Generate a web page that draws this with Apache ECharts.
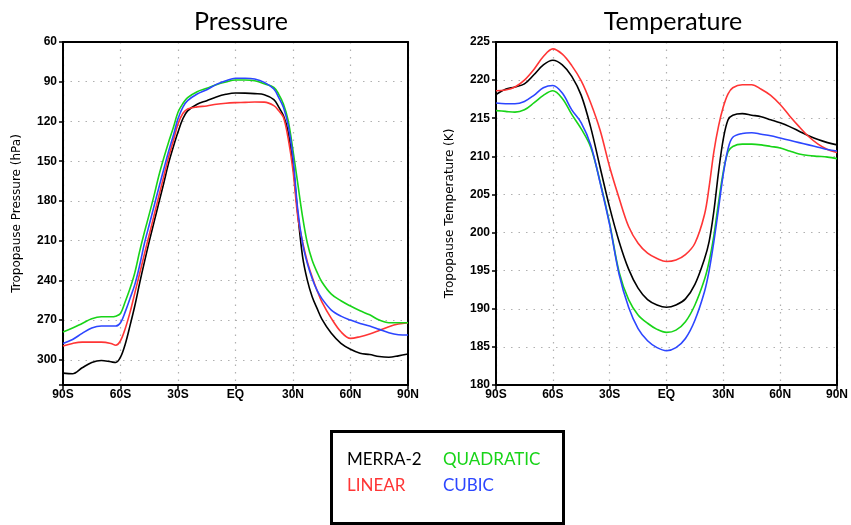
<!DOCTYPE html>
<html lang="en">
<head>
    <meta charset="UTF-8">
    <title>Tropopause Pressure / Temperature</title>
    <script src="https://cdn.jsdelivr.net/npm/echarts@6/dist/echarts.min.js"></script>
    <style>
        html, body { margin: 0; padding: 0; background: #fff; }
        #main { width: 851px; height: 525px; }
    </style>
</head>
<body>
<div id="main"></div>
<script>
    // x axis ticks (latitude)
    let latTicks = [-90, -60, -30, 0, 30, 60, 90];
    let latLabels = ['90S', '60S', '30S', 'EQ', '30N', '60N', '90N'];

    let names = ['MERRA-2', 'LINEAR', 'QUADRATIC', 'CUBIC'];
    let colors = ['#000000', '#ff3535', '#18d418', '#2c46ff'];

    // ---- Pressure panel (hPa) ----
    let latP = [-90, -85, -80, -75, -70, -65, -62.5, -60, -57.5, -55, -52.5, -50, -47.5, -45, -42.5, -40, -37.5, -35, -32.5, -30, -27.5, -25,
        -20, -15, -10, -5, 0, 5, 10, 15, 20, 22.5, 25, 27.5, 30, 32.5, 35, 37.5, 40, 42.5, 45, 50, 55, 60, 65, 70, 75, 80, 85, 90];
    let presMerra = [310, 310.5, 306, 302, 300.5, 301.5, 302, 298, 288, 274, 259, 242, 226, 210.5, 196, 181.4, 167, 152, 139.5, 128, 118, 112,
        107, 104.3, 101.5, 99.5, 98.5, 98.6, 99, 99.8, 103.5, 109, 115.6, 128, 153, 189.7, 222, 240, 252.4, 261, 269, 280, 287.5, 292, 295, 296, 297.5, 298, 297, 295.6];
    let presLinear = [289.6, 287.6, 286.6, 286.6, 286.6, 287.6, 289, 285.6, 276.3, 264, 249.4, 234.8, 220, 205.5, 191, 176.4, 162, 147.5, 135, 122, 114, 110.6,
        109, 108.3, 107, 106.2, 105.8, 105.6, 105.3, 105.4, 108, 111.8, 116.9, 133, 157, 192, 211, 226, 237.4, 247.4, 256, 268.7, 278.8, 283.8, 282.5, 280.5, 277.8, 275, 273, 272];
    let presQuad = [279, 276, 272.5, 269, 267.5, 267.5, 267, 265, 256, 246, 234, 218, 203.5, 190, 176, 161, 148, 136, 125, 113, 106.5, 102,
        97.5, 95, 92.2, 90.2, 88.7, 88.7, 89.2, 91.5, 94.3, 99.3, 106.8, 119.4, 142, 167, 192, 212, 224.8, 233.6, 241, 250.4, 255.4, 259.4, 263, 266, 270, 272, 272, 272];
    let presCubic = [287.6, 284.6, 280, 276, 274.5, 274.5, 274.5, 272, 263.6, 253.5, 243, 228.6, 212, 198, 184, 170, 156.5, 143, 131, 118, 109.3, 104.3,
        99.3, 96, 92, 89.2, 87.4, 87.4, 88, 90.5, 95.5, 101.8, 109.3, 123, 147, 187, 212, 227.3, 238.6, 247.4, 253.6, 262.4, 267, 270, 272.5, 274.5, 277, 279.5, 281, 281.3];
    let presTicks = [60, 90, 120, 150, 180, 210, 240, 270, 300];

    // ---- Temperature panel (K) ----
    let latT = [-90, -85, -80, -75, -70, -65, -60, -55, -50, -45, -40, -35, -30, -25, -20, -15, -10, -5, 0,
        5, 10, 15, 20, 22.5, 25, 27.5, 30, 32.5, 35, 40, 45, 50, 55, 60, 65, 70, 75, 80, 85, 90];
    let tempMerra = [218.1, 218.8, 219.1, 219.5, 220.7, 222, 222.6, 222, 220.5, 218, 213.8, 208.5, 203.3, 198.8, 195.2, 192.7, 191.2, 190.5, 190.2,
        190.5, 191.3, 193.2, 196.5, 198.8, 202.8, 208, 212.3, 214.8, 215.4, 215.6, 215.4, 215.2, 214.8, 214.4, 213.9, 213.3, 212.7, 212.2, 211.8, 211.5];
    let tempLinear = [218.6, 218.7, 219.1, 220, 221.4, 223.1, 224.1, 223.4, 221.9, 219.9, 217, 213.4, 208.6, 204.5, 200.8, 198.6, 197.3, 196.6, 196.2,
        196.4, 197.1, 198.6, 202.3, 206, 210.6, 214, 216.5, 218.2, 219, 219.4, 219.4, 218.8, 218, 216.8, 215.3, 213.9, 212.6, 211.6, 210.9, 210.5];
    let tempQuad = [216, 215.9, 215.8, 216.1, 217, 218, 218.6, 217.6, 215.5, 213.6, 211.2, 206.6, 201.2, 194.8, 191.2, 189.2, 188.1, 187.3, 186.9,
        187.2, 188.3, 190.5, 193.8, 196.2, 199.6, 204, 208, 210.6, 211.3, 211.6, 211.6, 211.5, 211.3, 211.1, 210.7, 210.3, 210.1, 210, 209.9, 209.7];
    let tempCubic = [217, 216.9, 216.9, 217.2, 218, 219, 219.3, 218.3, 216.1, 214.4, 211.5, 206.5, 201, 194.5, 190.2, 187.4, 185.8, 184.9, 184.5,
        184.9, 186.1, 188.5, 192.2, 195, 198.8, 203.2, 207.7, 211, 212.5, 213, 213.1, 212.9, 212.7, 212.4, 212.1, 211.8, 211.5, 211.2, 210.9, 210.7];

    let presSets = [presMerra, presLinear, presQuad, presCubic];
    let tempSets = [tempMerra, tempLinear, tempQuad, tempCubic];

    function pairs(xs, ys) {
        return xs.map(function (x, i) { return [x, ys[i]]; });
    }

    function latFormat(v) {
        let i = latTicks.indexOf(v);
        return i >= 0 ? latLabels[i] : '';
    }

    let labelFont = { color: '#000', fontSize: 12, fontWeight: 'bold', fontFamily: 'Liberation Sans, Arial, sans-serif' };
    let gridLine = { show: true, lineStyle: { color: '#b0b0b0', width: 1.2, type: [1.5, 6] } };
    let boxLine = { show: true, onZero: false, lineStyle: { color: '#000', width: 2 } };
    let ticks = { show: true, length: 4, lineStyle: { color: '#000', width: 1.5 } };

    function xAxisFor(idx) {
        return {
            type: 'value', gridIndex: idx, min: -90, max: 90, interval: 30, position: 'bottom',
            axisLine: boxLine, axisTick: ticks,
            axisLabel: Object.assign({ margin: 4, formatter: latFormat }, labelFont),
            splitLine: gridLine
        };
    }
    // plain solid edge for the top / right of each box
    function edgeX(idx) {
        return { type: 'value', gridIndex: idx, min: -90, max: 90, position: 'top',
            axisLine: boxLine, axisTick: { show: false }, axisLabel: { show: false }, splitLine: { show: false } };
    }
    function edgeY(idx, lo, hi) {
        return { type: 'value', gridIndex: idx, min: lo, max: hi, position: 'right',
            axisLine: boxLine, axisTick: { show: false }, axisLabel: { show: false }, splitLine: { show: false } };
    }

    let myChart = echarts.init(document.getElementById('main'));

    let series = [];
    names.forEach(function (n, k) {
        series.push({
            name: n, type: 'line', xAxisIndex: 0, yAxisIndex: 0, smooth: 0.35,
            showSymbol: false, lineStyle: { color: colors[k], width: 1.6 },
            data: pairs(latP, presSets[k])
        });
    });
    names.forEach(function (n, k) {
        series.push({
            name: n, type: 'line', xAxisIndex: 1, yAxisIndex: 1, smooth: 0.35,
            showSymbol: false, lineStyle: { color: colors[k], width: 1.6 },
            data: pairs(latT, tempSets[k])
        });
    });

    let legendFont = '17px Lato, "Noto Sans", sans-serif';
    let titleFont = { fontSize: 25, fontWeight: 'normal', color: '#000', fontFamily: 'Lato, "Noto Sans", sans-serif' };
    let nameFont = { fontSize: 12, color: '#000', fontFamily: 'DejaVu Sans, sans-serif' };

    let option = {
        backgroundColor: '#fff',
        animation: false,
        title: [
            { text: 'Pressure', left: 236, top: 4, textAlign: 'center', textStyle: titleFont },
            { text: 'Temperature', left: 668, top: 4, textAlign: 'center', textStyle: titleFont }
        ],
        grid: [
            { left: 63, top: 42, width: 345, height: 343 },
            { left: 496, top: 42, width: 345, height: 343 }
        ],
        xAxis: [xAxisFor(0), xAxisFor(1), edgeX(0), edgeX(1)],
        yAxis: [
            {
                type: 'value', gridIndex: 0, inverse: true, min: 60, max: 319, interval: 30, position: 'left',
                name: 'Tropopause Pressure (hPa)', nameLocation: 'middle', nameGap: 40, nameTextStyle: nameFont,
                axisLine: boxLine, axisTick: ticks,
                axisLabel: Object.assign({
                    margin: 6,
                    formatter: function (v) { return presTicks.indexOf(v) >= 0 ? String(v) : ''; }
                }, labelFont),
                splitLine: gridLine
            },
            {
                type: 'value', gridIndex: 1, min: 180, max: 225, interval: 5, position: 'left',
                name: 'Tropopause Temperature (K)', nameLocation: 'middle', nameGap: 40, nameTextStyle: nameFont,
                axisLine: boxLine, axisTick: ticks,
                axisLabel: Object.assign({ margin: 6 }, labelFont),
                splitLine: gridLine
            },
            edgeY(0, 60, 319),
            edgeY(1, 180, 225)
        ],
        graphic: [
            { type: 'rect', left: 330, top: 430, shape: { width: 232, height: 92 },
              style: { fill: '#fff', stroke: '#000', lineWidth: 3 } },
            { type: 'text', x: 347, y: 460, style: { text: names[0], fill: colors[0], font: legendFont, verticalAlign: 'middle' } },
            { type: 'text', x: 443, y: 460, style: { text: names[2], fill: colors[2], font: legendFont, verticalAlign: 'middle' } },
            { type: 'text', x: 347, y: 486, style: { text: names[1], fill: colors[1], font: legendFont, verticalAlign: 'middle' } },
            { type: 'text', x: 443, y: 486, style: { text: names[3], fill: colors[3], font: legendFont, verticalAlign: 'middle' } }
        ],
        series: series
    };

    myChart.setOption(option);
</script>
</body>
</html>
